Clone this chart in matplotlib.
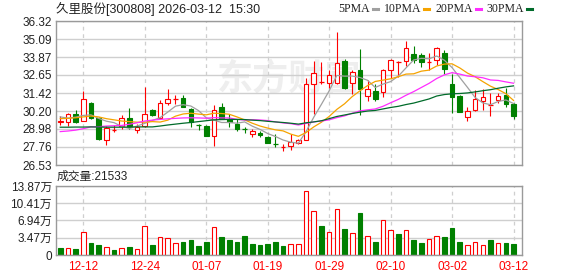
import matplotlib
matplotlib.use("Agg")
import matplotlib.pyplot as plt
from matplotlib.patches import Rectangle
from matplotlib.lines import Line2D

plt.rcParams['font.family'] = ['Liberation Sans', 'Noto Sans CJK SC', 'DejaVu Sans']

# ---- data ----
dates = ['12-09', '12-10', '12-11', '12-12', '12-15', '12-16', '12-17', '12-18', '12-19', '12-22',
         '12-23', '12-24', '12-25', '12-26', '12-29', '12-30', '12-31', '01-05', '01-06', '01-07',
         '01-08', '01-09', '01-12', '01-13', '01-14', '01-15', '01-16', '01-19', '01-20', '01-21',
         '01-22', '01-23', '01-26', '01-27', '01-28', '01-29', '01-30', '02-02', '02-03', '02-04',
         '02-05', '02-06', '02-09', '02-10', '02-11', '02-12', '02-13', '02-24', '02-25', '02-26',
         '02-27', '03-02', '03-03', '03-04', '03-05', '03-06', '03-09', '03-10', '03-11', '03-12']
tick_dates = ['12-12', '12-24', '01-07', '01-19', '01-29', '02-10', '03-02', '03-12']

opens = [29.45, 29.46, 29.98, 29.55, 30.72, 29.73, 28.24, 28.90, 29.19, 29.75,
         28.90, 29.15, 30.25, 29.71, 30.77, 31.02, 31.06, 30.32, 29.24, 29.19,
         28.51, 30.48, 29.69, 29.35, 29.00, 28.63, 28.72, 28.45, 27.98, 27.75,
         27.84, 28.02, 28.24, 32.01, 32.15, 32.08, 32.12, 33.63, 32.08, 33.02,
         31.22, 31.56, 31.49, 32.98, 33.50, 33.59, 34.11, 34.04, 33.52, 33.70,
         34.15, 32.05, 31.22, 29.82, 30.25, 30.88, 30.57, 30.95, 31.27, 30.66]
highs = [29.88, 30.09, 30.28, 31.55, 30.81, 29.80, 29.15, 29.22, 29.91, 30.43,
         29.35, 31.82, 30.32, 30.95, 31.67, 31.31, 31.27, 30.43, 29.30, 29.24,
         30.61, 30.77, 30.03, 29.69, 29.12, 28.97, 28.85, 28.50, 28.67, 27.95,
         28.63, 28.30, 32.46, 33.59, 33.54, 32.96, 35.55, 33.75, 32.96, 34.42,
         32.30, 32.01, 33.07, 33.75, 33.59, 34.94, 34.60, 34.15, 34.15, 34.55,
         34.33, 32.75, 31.27, 30.50, 31.63, 31.72, 31.45, 31.45, 31.78, 30.77]
lows = [29.28, 29.19, 29.38, 29.52, 29.64, 28.22, 27.90, 28.80, 28.97, 28.97,
        28.70, 29.08, 29.87, 29.64, 30.59, 30.70, 30.45, 29.08, 28.92, 28.47,
        27.84, 29.64, 29.08, 28.85, 28.70, 28.45, 28.45, 28.00, 27.72, 27.45,
        27.54, 27.95, 28.20, 29.98, 32.01, 31.78, 32.06, 31.70, 31.33, 29.94,
        30.88, 30.90, 31.17, 32.46, 32.53, 33.25, 33.48, 33.20, 32.98, 33.35,
        32.69, 30.05, 30.14, 29.53, 30.20, 30.27, 29.87, 30.77, 30.50, 29.69]
closes = [29.52, 30.00, 29.45, 31.04, 29.71, 28.29, 29.06, 28.93, 29.75, 29.08,
          29.08, 29.98, 29.90, 30.72, 30.99, 31.05, 30.50, 29.42, 29.20, 28.51,
          30.27, 29.69, 29.42, 28.97, 28.95, 28.81, 28.60, 28.02, 27.95, 27.78,
          28.06, 28.24, 32.01, 32.80, 32.17, 32.62, 33.48, 31.78, 32.84, 31.67,
          31.70, 30.99, 32.96, 33.70, 33.52, 34.49, 33.66, 33.52, 33.54, 34.49,
          33.03, 31.18, 30.14, 30.20, 31.04, 31.18, 30.60, 31.22, 30.70, 29.87]

ma5 = [29.80, 29.72, 29.78, 29.90, 29.94, 29.70, 29.51, 29.41, 29.15, 29.02,
       29.18, 29.36, 29.56, 29.75, 30.13, 30.53, 30.63, 30.54, 30.23, 29.74,
       29.58, 29.42, 29.42, 29.37, 29.46, 29.17, 28.95, 28.67, 28.47, 28.23,
       28.08, 28.01, 28.81, 29.78, 30.66, 31.57, 32.62, 32.57, 32.58, 32.48,
       32.29, 31.80, 32.03, 32.20, 32.57, 33.13, 33.67, 33.78, 33.75, 33.94,
       33.65, 33.15, 32.48, 31.81, 31.12, 30.75, 30.63, 30.85, 30.95, 30.71]
ma10 = [29.68, 29.70, 29.74, 29.80, 29.86, 29.80, 29.68, 29.60, 29.52, 29.48,
        29.44, 29.44, 29.48, 29.45, 29.58, 29.85, 30.00, 30.05, 29.99, 29.94,
        30.05, 30.03, 29.98, 29.80, 29.60, 29.37, 29.18, 29.04, 28.92, 28.85,
        28.63, 28.48, 28.74, 29.12, 29.44, 29.83, 30.31, 30.69, 31.18, 31.57,
        31.93, 32.21, 32.30, 32.39, 32.53, 32.71, 32.73, 32.91, 32.98, 33.26,
        33.39, 33.41, 33.13, 32.78, 32.53, 32.20, 31.89, 31.66, 31.38, 30.92]
ma20 = [28.80, 28.84, 28.90, 29.00, 29.12, 29.13, 29.18, 29.20, 29.22, 29.30,
        29.40, 29.52, 29.58, 29.63, 29.67, 29.70, 29.73, 29.74, 29.73, 29.71,
        29.75, 29.73, 29.73, 29.63, 29.59, 29.61, 29.59, 29.55, 29.46, 29.39,
        29.34, 29.25, 29.36, 29.46, 29.52, 29.60, 29.75, 29.87, 30.05, 30.21,
        30.28, 30.34, 30.52, 30.76, 30.99, 31.27, 31.52, 31.80, 32.08, 32.41,
        32.66, 32.81, 32.71, 32.58, 32.53, 32.46, 32.31, 32.28, 32.18, 32.09]
ma30 = [29.10, 29.10, 29.11, 29.11, 29.12, 29.11, 29.10, 29.10, 29.10, 29.11,
        29.12, 29.12, 29.12, 29.18, 29.25, 29.31, 29.37, 29.42, 29.48, 29.54,
        29.60, 29.62, 29.63, 29.63, 29.62, 29.58, 29.55, 29.50, 29.46, 29.42,
        29.37, 29.31, 29.40, 29.46, 29.54, 29.68, 29.83, 29.93, 30.03, 30.12,
        30.20, 30.24, 30.34, 30.44, 30.52, 30.64, 30.74, 30.88, 31.02, 31.22,
        31.32, 31.37, 31.39, 31.43, 31.50, 31.58, 31.65, 31.75, 31.84, 31.91]

# volume in 万 shares, and whether the volume bar is red
volumes = [1.41, 1.34, 1.20, 4.56, 2.41, 2.00, 1.54, 1.00, 1.34, 1.61,
           1.14, 5.76, 2.00, 3.55, 3.35, 2.35, 2.61, 3.00, 1.81, 2.61,
           5.56, 3.62, 3.00, 2.61, 3.82, 2.21, 2.00, 2.21, 2.61, 1.81,
           2.21, 2.21, 12.80, 8.78, 5.83, 4.56, 9.18, 5.23, 4.36, 8.44,
           3.75, 2.61, 6.97, 4.96, 4.22, 4.96, 3.00, 2.41, 3.15, 3.75,
           3.62, 5.43, 2.61, 1.94, 2.61, 1.94, 3.00, 2.41, 2.41, 2.15]
vol_up = [0, 1, 0, 1, 0, 0, 1, 0, 1, 0, 1, 1, 0, 1, 1, 1, 0, 0, 0, 0,
          1, 0, 0, 0, 0, 0, 0, 0, 0, 0, 1, 1, 1, 1, 0, 1, 1, 0, 1, 0,
          1, 0, 1, 1, 0, 1, 0, 0, 1, 1, 0, 0, 0, 1, 1, 1, 0, 1, 0, 0]

price_ticks = [26.53, 27.76, 28.98, 30.20, 31.42, 32.65, 33.87, 35.09, 36.32]
price_labels = ['26.53', '27.76', '28.98', '30.20', '31.42', '32.65', '33.87', '35.09', '36.32']
vol_ticks = [0, 3.47, 6.94, 10.41, 13.87]
vol_labels = ['0', '3.47万', '6.94万', '10.41万', '13.87万']
ma_names = ['5PMA', '10PMA', '20PMA', '30PMA']

title = '久里股份[300808] 2026-03-12  15:30'
vol_title = '成交量:21533'

RED = '#ff0000'
GREEN = '#008000'
MA_COLORS = ['#a0a0a0', '#f5a300', '#ff2cff', '#006b2a']
GRID = '#cfcfcf'
FRAME = '#9a9a9a'

W, H = 578, 276
fig = plt.figure(figsize=(W / 100, H / 100), dpi=100)
ax = fig.add_axes([56 / W, 1 - 165 / H, 466 / W, 144 / H])
axv = fig.add_axes([56 / W, 1 - 255 / H, 466 / W, 69 / H])

n = len(closes)
tick_idx = [dates.index(d) for d in tick_dates]
bw = 0.6

# watermark
ax.text(0.5, 0.6, '东方财富', transform=ax.transAxes, fontsize=26, fontweight='bold',
        color='#eeeeee', ha='center', va='center', family=['Noto Sans CJK SC'], zorder=0)

for i in range(n):
    o, h, l, c = opens[i], highs[i], lows[i], closes[i]
    lo, hi = min(o, c), max(o, c)
    if c >= o:
        ax.vlines(i, hi, h, color=RED, lw=0.8, zorder=3)
        ax.vlines(i, l, lo, color=RED, lw=0.8, zorder=3)
        if hi - lo < 0.06:
            ax.hlines((o + c) / 2, i - bw / 2, i + bw / 2, color=RED, lw=0.9, zorder=3)
        else:
            ax.add_patch(Rectangle((i - bw / 2, lo), bw, hi - lo, facecolor='white',
                                   edgecolor=RED, lw=0.8, zorder=3))
    else:
        ax.vlines(i, l, h, color=GREEN, lw=0.8, zorder=3)
        if hi - lo < 0.06:
            ax.hlines((o + c) / 2, i - bw / 2, i + bw / 2, color=GREEN, lw=0.9, zorder=3)
        else:
            ax.add_patch(Rectangle((i - bw / 2, lo), bw, hi - lo, facecolor=GREEN,
                                   edgecolor=GREEN, lw=0.8, zorder=3))

x = list(range(n))
for ma, col in zip([ma5, ma10, ma20, ma30], MA_COLORS):
    ax.plot(x, ma, color=col, lw=0.9, zorder=4)

for i in range(n):
    if vol_up[i]:
        axv.add_patch(Rectangle((i - bw / 2, 0), bw, volumes[i], facecolor='white',
                                edgecolor=RED, lw=0.8))
    else:
        axv.add_patch(Rectangle((i - bw / 2, 0), bw, volumes[i], facecolor=GREEN,
                                edgecolor=GREEN, lw=0.8))

for a in (ax, axv):
    a.set_xlim(-0.55, 60.1)
    a.set_xticks(tick_idx)
    a.tick_params(length=0, labelsize=8.5, colors='#222222', pad=3)
    for s in a.spines.values():
        s.set_color(FRAME)
        s.set_linewidth(1.0)
    a.grid(axis='y', color=GRID, lw=1.0, zorder=0)
    for t in tick_idx:
        a.axvline(t, color=GRID, lw=0.9, ls=(0, (3, 3)), zorder=0)
    a.set_axisbelow(True)

ax.set_ylim(26.53, 36.32)
ax.set_yticks(price_ticks)
ax.set_yticklabels(price_labels)
ax.set_xticklabels([])

axv.set_ylim(0, 13.87)
axv.set_yticks(vol_ticks)
axv.set_yticklabels(vol_labels)
axv.set_xticklabels(tick_dates)
axv.tick_params(axis='x', colors=RED, pad=4)

fig.text(56 / W, 1 - 9 / H, title, fontsize=9, va='center', ha='left', color='#222222')
fig.text(57 / W, 1 - 177 / H, vol_title, fontsize=8.5, va='center', ha='left', color='#222222')

# legend strip: name followed by a short coloured dash
fig.canvas.draw()
renderer = fig.canvas.get_renderer()
px = 338
for lab, col in zip(ma_names, MA_COLORS):
    t = fig.text(px / W, 1 - 9 / H, lab, fontsize=8.5, va='center', ha='left',
                 color='#222222', family=['Liberation Serif'])
    bb = t.get_window_extent(renderer)
    x0 = bb.x1 + 3
    fig.add_artist(Line2D([x0 / W, (x0 + 5) / W], [1 - 9 / H, 1 - 9 / H], color=col, lw=2.2,
                          transform=fig.transFigure))
    px = x0 + 11

fig.savefig('out.png', dpi=100)
